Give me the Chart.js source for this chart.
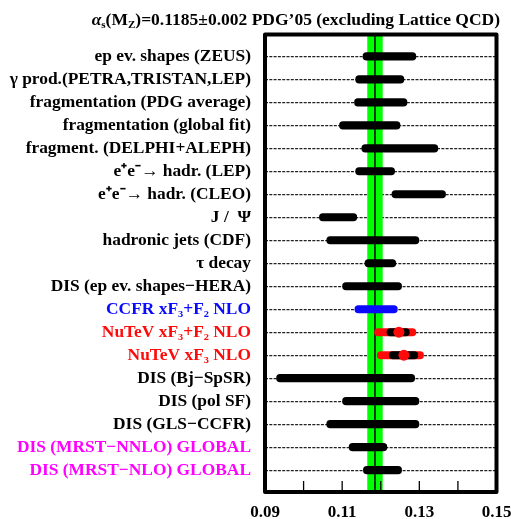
<!DOCTYPE html>
<html>
<head>
<meta charset="utf-8">
<script src="https://cdn.jsdelivr.net/npm/chart.js@4"></script>
<style>
  body { margin: 0; background: #fff; }
  #wrap { position: relative; width: 511px; height: 519px; }
  #title {
    position: absolute; top: 9px; right: 11px;
    font: bold 17.5px "Liberation Serif", serif; color: #000; white-space: nowrap;
  }
  #title sub { font-size: 11px; vertical-align: -3px; line-height: 0; }
</style>
</head>
<body>
<div id="wrap">
  <canvas id="chart" width="511" height="519"></canvas>
  <div id="title"><i>α</i><sub>s</sub>(M<sub>Z</sub>)=0.1185±0.002 PDG’05 (excluding Lattice QCD)</div>
</div>
<script>
const labels = [
  'ep ev. shapes (ZEUS)',
  'γ prod.(PETRA,TRISTAN,LEP)',
  'fragmentation (PDG average)',
  'fragmentation (global fit)',
  'fragment. (DELPHI+ALEPH)',
  'e⁺e⁻→ hadr. (LEP)',
  'e⁺e⁻→ hadr. (CLEO)',
  'J /  Ψ',
  'hadronic jets (CDF)',
  'τ decay',
  'DIS (ep ev. shapes−HERA)',
  'CCFR xF₃+F₂ NLO',
  'NuTeV xF₃+F₂ NLO',
  'NuTeV xF₃ NLO',
  'DIS (Bj−SpSR)',
  'DIS (pol SF)',
  'DIS (GLS−CCFR)',
  'DIS (MRST−NNLO) GLOBAL',
  'DIS (MRST−NLO) GLOBAL'
];
const lows  = [0.1154, 0.1135, 0.1132, 0.1093, 0.1151, 0.1135, 0.1229, 0.1041, 0.1060, 0.1159,
               0.1101, 0.1133, 0.1184, 0.1191, 0.0930, 0.1101, 0.1060, 0.1118, 0.1155];
const highs = [0.1291, 0.1260, 0.1268, 0.1250, 0.1348, 0.1236, 0.1368, 0.1138, 0.1299, 0.1239,
               0.1254, 0.1243, 0.1291, 0.1311, 0.1288, 0.1299, 0.1299, 0.1216, 0.1254];

// NuTeV inner (statistical) errors and central values
const nutevRows  = [12, 13];
const nutevLows  = [0.1216, 0.1222];
const nutevHighs = [0.1274, 0.1296];
const nutevCentral = [0.1247, 0.1260];

// world average band
const worldAvg = 0.1185;
const worldErr = 0.002;

const xTicks = [0.09, 0.10, 0.11, 0.12, 0.13, 0.14, 0.15];
const xLabelled = [0.09, 0.11, 0.13, 0.15];

// colours per row
const rowColor = i => {
  if (i === 11) return '#0a0aff';
  if (i === 12 || i === 13) return '#ff0a0a';
  if (i === 17 || i === 18) return '#ff00ff';
  return '#000';
};
const barColor = i => (i >= 11 && i <= 13) ? rowColor(i) : '#000';

const FONT = '"Liberation Serif", "Times New Roman", serif';

// green band + centre line, drawn under the bars
const bandPlugin = {
  id: 'band',
  beforeDatasetsDraw(chart) {
    const { ctx, chartArea, scales } = chart;
    const x0 = scales.x.getPixelForValue(worldAvg - worldErr);
    const x1 = scales.x.getPixelForValue(worldAvg + worldErr);
    const xc = scales.x.getPixelForValue(worldAvg);
    ctx.save();
    ctx.fillStyle = '#00ff00';
    ctx.fillRect(x0, chartArea.top, x1 - x0, chartArea.bottom - chartArea.top);
    ctx.strokeStyle = '#000';
    ctx.lineWidth = 1.5;
    ctx.beginPath();
    ctx.moveTo(xc, chartArea.top);
    ctx.lineTo(xc, chartArea.bottom);
    ctx.stroke();
    ctx.restore();
  }
};

// thick frame and inner tick marks
const framePlugin = {
  id: 'frame',
  afterDraw(chart) {
    const { ctx, chartArea, scales } = chart;
    ctx.save();
    ctx.strokeStyle = '#000';
    ctx.lineWidth = 1.3;
    xTicks.slice(1, -1).forEach(v => {
      const x = scales.x.getPixelForValue(v);
      ctx.beginPath();
      ctx.moveTo(x, chartArea.bottom);
      ctx.lineTo(x, chartArea.bottom - 11);
      ctx.stroke();
    });
    ctx.lineWidth = 4;
    ctx.lineJoin = 'round';
    ctx.strokeRect(chartArea.left, chartArea.top,
      chartArea.right - chartArea.left, chartArea.bottom - chartArea.top);
    ctx.restore();
  }
};

const outerData = labels.map((l, i) => ({ y: i, x: [lows[i], highs[i]] }));
const innerData = nutevRows.map((r, k) => ({ y: r, x: [nutevLows[k], nutevHighs[k]] }));
const dotData = nutevRows.map((r, k) => ({ y: r, x: nutevCentral[k] }));

new Chart(document.getElementById('chart'), {
  type: 'bar',
  data: {
    datasets: [
      {
        type: 'scatter',
        data: dotData,
        backgroundColor: '#ff0a0a',
        borderWidth: 0,
        pointRadius: 5.5,
        order: 0
      },
      {
        indexAxis: 'y',
        data: innerData,
        backgroundColor: '#000',
        barThickness: 7.5,
        borderRadius: 4,
        borderSkipped: false,
        grouped: false,
        order: 1
      },
      {
        indexAxis: 'y',
        data: outerData,
        backgroundColor: outerData.map((d, i) => barColor(i)),
        barThickness: 7.5,
        borderRadius: 4,
        borderSkipped: false,
        grouped: false,
        order: 2
      }
    ]
  },
  options: {
    responsive: false,
    animation: false,
    layout: { padding: { top: 34.5, right: 14.5, left: 0, bottom: 0 } },
    plugins: { legend: { display: false }, tooltip: { enabled: false } },
    scales: {
      x: {
        type: 'linear',
        min: 0.09,
        max: 0.15,
        offset: false,
        afterBuildTicks: s => { s.ticks = xTicks.map(v => ({ value: v })); },
        afterFit: s => { s.height = 27; s.paddingLeft = 0; s.paddingRight = 0; },
        grid: { display: false, offset: false },
        border: { display: false },
        ticks: {
          padding: 2,
          maxRotation: 0,
          minRotation: 0,
          autoSkip: false,
          color: '#000',
          font: { family: FONT, size: 17, weight: 'bold' },
          callback: v => xLabelled.some(t => Math.abs(t - v) < 1e-6) ? v.toFixed(2) : ''
        }
      },
      y: {
        type: 'linear',
        reverse: true,
        min: -0.95,
        max: 18.95,
        offset: false,
        afterBuildTicks: s => { s.ticks = labels.map((l, i) => ({ value: i })); },
        afterFit: s => { s.width = 265; },
        grid: { color: '#222', lineWidth: 1.3, drawTicks: false, offset: false },
        border: { display: false, dash: [3, 1.3] },
        ticks: {
          padding: 14,
          autoSkip: false,
          color: ctx => rowColor(ctx.index),
          font: { family: FONT, size: 17.4, weight: 'bold' },
          callback: v => labels[v]
        }
      }
    }
  },
  plugins: [bandPlugin, framePlugin]
});
</script>
</body>
</html>
